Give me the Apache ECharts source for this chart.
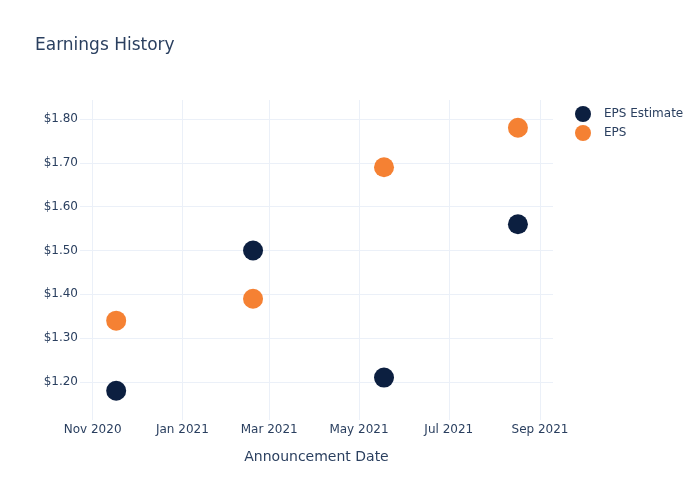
<!DOCTYPE html>
<html>
<head>
<meta charset="utf-8">
<script src="https://cdn.jsdelivr.net/npm/echarts@6/dist/echarts.min.js"></script>
<style>html,body{margin:0;padding:0;background:#fff}#c{width:700px;height:500px}</style>
</head>
<body>
<div id="c"></div>
<script>
var dates = ['2020-11-17', '2021-02-18', '2021-05-18', '2021-08-17'];
var epsEstimate = [1.18, 1.50, 1.21, 1.56];
var eps = [1.34, 1.39, 1.69, 1.78];
var xTicks = ['2020-11-01', '2021-01-01', '2021-03-01', '2021-05-01', '2021-07-01', '2021-09-01'];
var yTicks = [1.2, 1.3, 1.4, 1.5, 1.6, 1.7, 1.8];
var xRange = ['2020-10-23T10:00:00', '2021-09-09T20:00:00'];
var yRange = [1.1133, 1.8434];

var MONTHS = ['Jan','Feb','Mar','Apr','May','Jun','Jul','Aug','Sep','Oct','Nov','Dec'];
function ts(s){ return new Date(s + (s.length === 10 ? 'T00:00:00' : '')).getTime(); }
var FONT = 'DejaVu Sans';
var TXT = '#2a3f5f';
var GRID = '#ebf0f8';

var chart = echarts.init(document.getElementById('c'), null, {renderer: 'canvas'});
chart.setOption({
  animation: false,
  backgroundColor: '#fff',
  title: {
    text: 'Earnings History', left: 30, top: 32,
    textStyle: {fontFamily: FONT, fontSize: 17, fontWeight: 'normal', color: TXT}
  },
  legend: {
    orient: 'vertical', left: 570, top: 101, itemGap: 3,
    itemWidth: 16, itemHeight: 16, icon: 'circle',
    textStyle: {fontFamily: FONT, fontSize: 12, color: TXT, padding: [0,0,0,8]},
    data: ['EPS Estimate', 'EPS']
  },
  grid: {left: 80, right: 147, top: 100, bottom: 80, containLabel: false},
  xAxis: {
    type: 'value',
    min: ts(xRange[0]), max: ts(xRange[1]),
    name: 'Announcement Date', nameLocation: 'middle', nameGap: 30,
    nameTextStyle: {fontFamily: FONT, fontSize: 14, color: TXT},
    axisLine: {show: false},
    axisTick: {show: false, customValues: xTicks.map(ts)},
    axisLabel: {
      customValues: xTicks.map(ts), margin: 4,
      fontFamily: FONT, fontSize: 12, color: TXT,
      formatter: function(v){ var d = new Date(v); return MONTHS[d.getMonth()] + ' ' + d.getFullYear(); }
    },
    splitLine: {show: true, lineStyle: {color: GRID, width: 1}}
  },
  yAxis: {
    type: 'value',
    min: yRange[0], max: yRange[1],
    axisLine: {show: false},
    axisTick: {show: false, customValues: yTicks},
    axisLabel: {
      customValues: yTicks, margin: 2,
      fontFamily: FONT, fontSize: 12, color: TXT,
      formatter: function(v){ return '$' + v.toFixed(2); }
    },
    splitLine: {show: true, lineStyle: {color: GRID, width: 1}}
  },
  series: [
    {
      name: 'EPS Estimate', type: 'scatter', symbolSize: 20,
      itemStyle: {color: '#0c1f40', opacity: 1},
      data: dates.map(function(d, i){ return [ts(d), epsEstimate[i]]; })
    },
    {
      name: 'EPS', type: 'scatter', symbolSize: 20,
      itemStyle: {color: '#f58133', opacity: 1},
      data: dates.map(function(d, i){ return [ts(d), eps[i]]; })
    }
  ]
});
</script>
</body>
</html>
